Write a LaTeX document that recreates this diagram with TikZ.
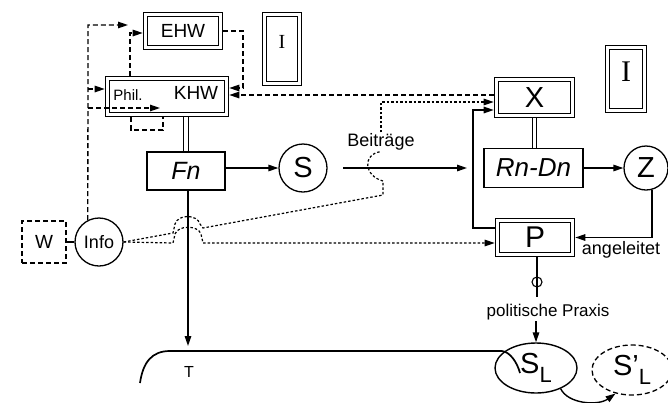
\documentclass[tikz,border=0pt]{standalone}
\usepackage{fontspec}
\setmainfont{Liberation Sans}
\newfontfamily\serifI{Liberation Serif}
\usetikzlibrary{arrows.meta,calc,shapes.geometric}
\newcommand{\myfs}[1]{\fontsize{#1}{#1}\selectfont}
\begin{document}
\begin{tikzpicture}[x=1pt,y=-1pt,
  every node/.style={font=\myfs{18}},
  ln/.style={line width=1.4pt},
  dbox/.style={draw, double, double distance=3.6pt, line width=1pt, inner sep=0pt, outer sep=2.8pt},
  sbox/.style={draw, line width=1.2pt, inner sep=0pt},
  circ/.style={draw, circle, line width=1.3pt, inner sep=0pt},
  dsh/.style={dash pattern=on 5pt off 3pt, line width=1.3pt},
  dots/.style={dash pattern=on 2.5pt off 2pt, line width=1.2pt},
  arr/.style={-{Triangle[length=10pt,width=6.5pt]}},
  dconn/.style={double, double distance=3.6pt, line width=1pt}]
\useasboundingbox (0,0) rectangle (668,402);

% boxes
\node[dbox, minimum width=75pt, minimum height=33pt, font=\myfs{19}] (EHW) at (183,31) {EHW};
\node[dbox, minimum width=35pt, minimum height=69pt, font=\myfs{20}\serifI, text depth=14pt] (IL) at (282,49) {I};
\node[dbox, minimum width=119pt, minimum height=36pt] (KHW) at (167,96.5) {};
\node[font=\myfs{15}] (phil) at (128,95) {Phil.};
\node[font=\myfs{19}] (khw) at (196,93) {KHW};
\node[sbox, minimum width=78pt, minimum height=38pt, font=\myfs{25}\itshape] (Fn) at (186,171) {Fn};
\node[circ, minimum size=48pt, font=\myfs{29}] (S) at (303,168) {S};
\node[dbox, minimum width=76pt, minimum height=36pt, font=\myfs{29}] (X) at (534.5,97.5) {X};
\node[dbox, minimum width=37pt, minimum height=63pt, font=\myfs{30}\serifI, text depth=14pt] (IR) at (626,79) {I};
\node[sbox, minimum width=99pt, minimum height=39pt, font=\myfs{26}\itshape] (RD) at (533.5,168) {Rn-Dn};
\node[circ, minimum size=44pt, font=\myfs{29}] (Z) at (646,168) {Z};
\node[dbox, minimum width=75pt, minimum height=34pt, font=\myfs{30}] (P) at (535,237.5) {P};
\node[sbox, dsh, minimum width=44pt, minimum height=42pt, font=\myfs{19}] (W) at (44,242) {W};
\node[circ, minimum size=48pt] (Info) at (99,242) {Info};
\node[inner sep=1pt] (beit) at (381,142) {Beiträge};
\node (ang) at (621,250) {angeleitet};
\node[inner sep=1pt, font=\myfs{17}] (pol) at (548,312) {politische Praxis};
\node[draw, circle, minimum size=10pt, line width=1.1pt, inner sep=0pt] (phi) at (537,282) {};
\node[draw, ellipse, minimum width=82pt, minimum height=50pt, line width=1.4pt, inner sep=0pt, font=\myfs{29}] (SL) at (536,368) {S\raisebox{-0.3em}{\myfs{22}L}};
\node[draw, ellipse, dsh, minimum width=80pt, minimum height=50pt, inner sep=0pt, font=\myfs{29}] (SLp) at (632,370) {S’\raisebox{-0.3em}{\myfs{22}L}};
\node[font=\myfs{16}] (T) at (189,372) {T};

% dashed feedback paths on the left
\coordinate (L1) at (88,25); \coordinate (L1e) at (128,25);
\draw[dsh, arr] (Info.117) -- (L1) -- (L1e);
\coordinate (L2) at (88,89);
\draw[dsh, arr] (L2) -- (L2 -| KHW.west);
\coordinate (L3) at (88,108); \coordinate (L3e) at (160,108);
\draw[dsh, arr] (L3) -- (L3e);
\coordinate (lp1) at (131,130); \coordinate (lp2) at (163,130);
\draw[dsh] (KHW.south -| lp1) -- (lp1) -- (lp2) -- (KHW.south -| lp2);
\coordinate (k1) at (130,33);
\draw[dsh, arr] (KHW.north -| k1) -- (k1) -- (k1 -| EHW.west);
\coordinate (e1) at (243,88);
\draw[dsh, arr] (EHW.east) -| (e1) -- (e1 -| KHW.east);
\coordinate (x95) at (0,95);
\draw[dsh, arr] (X.west |- x95) -- (KHW.east |- x95);

% dotted paths from Info
\draw[dots] (Info.east) -- (173,233) -- (175,224) .. controls (178,214) and (197,214) .. (200,224) -- (203,228) -- (383,195) -- (383,181) .. controls (364,176) and (362,154) .. (beit.south);
\coordinate (x102) at (0,102);
\draw[dots, arr] (beit.north) -- (beit.north |- x102) -- (X.west |- x102);
\coordinate (y243) at (0,243);
\draw[dots, arr] (Info.east) -- (173,243) -- (175,234) .. controls (178,225) and (198,225) .. (201,234) -- (203,243) -- (P.west |- y243);

% solid connectors
\draw[ln] (W) -- (Info);
\draw[ln, arr] (Fn.east |- S) -- (S);
\coordinate (b1) at (343,168); \coordinate (b2) at (467,168);
\draw[ln, arr] (b1) -- (b2);
\draw[dconn] (KHW.south -| Fn.north) -- (Fn.north);
\draw[dconn] (X.south) -- (X.south |- RD.north);
\coordinate (fd) at (188,346);
\draw[ln, arr] (Fn.south -| fd) -- (fd);
\draw[ln, arr] (RD.east) -- (Z);
\draw[ln, arr] (Z.-75) |- (P.east);
\coordinate (fb1) at (473,228); \coordinate (fb2) at (473,110);
\draw[ln, arr] (P.west |- fb1) -- (fb1) -- (fb2) -- (X.west |- fb2);
\coordinate (pb) at (537,297);
\draw[ln] (P.south -| pb) -- (pb);
\draw[ln, arr] (pol.south -| SL.north) -- (SL.north);

% T line
\draw[line width=1.7pt] (140,383) .. controls (143,362) and (152,351) .. (170,351) -- (502,351) .. controls (510,352) and (517,362) .. (520,373);

% S_L -> S'_L
\draw[ln, arr] (SL.-40) .. controls (568,404) and (598,406) .. (SLp.-125);
\end{tikzpicture}
\end{document}
